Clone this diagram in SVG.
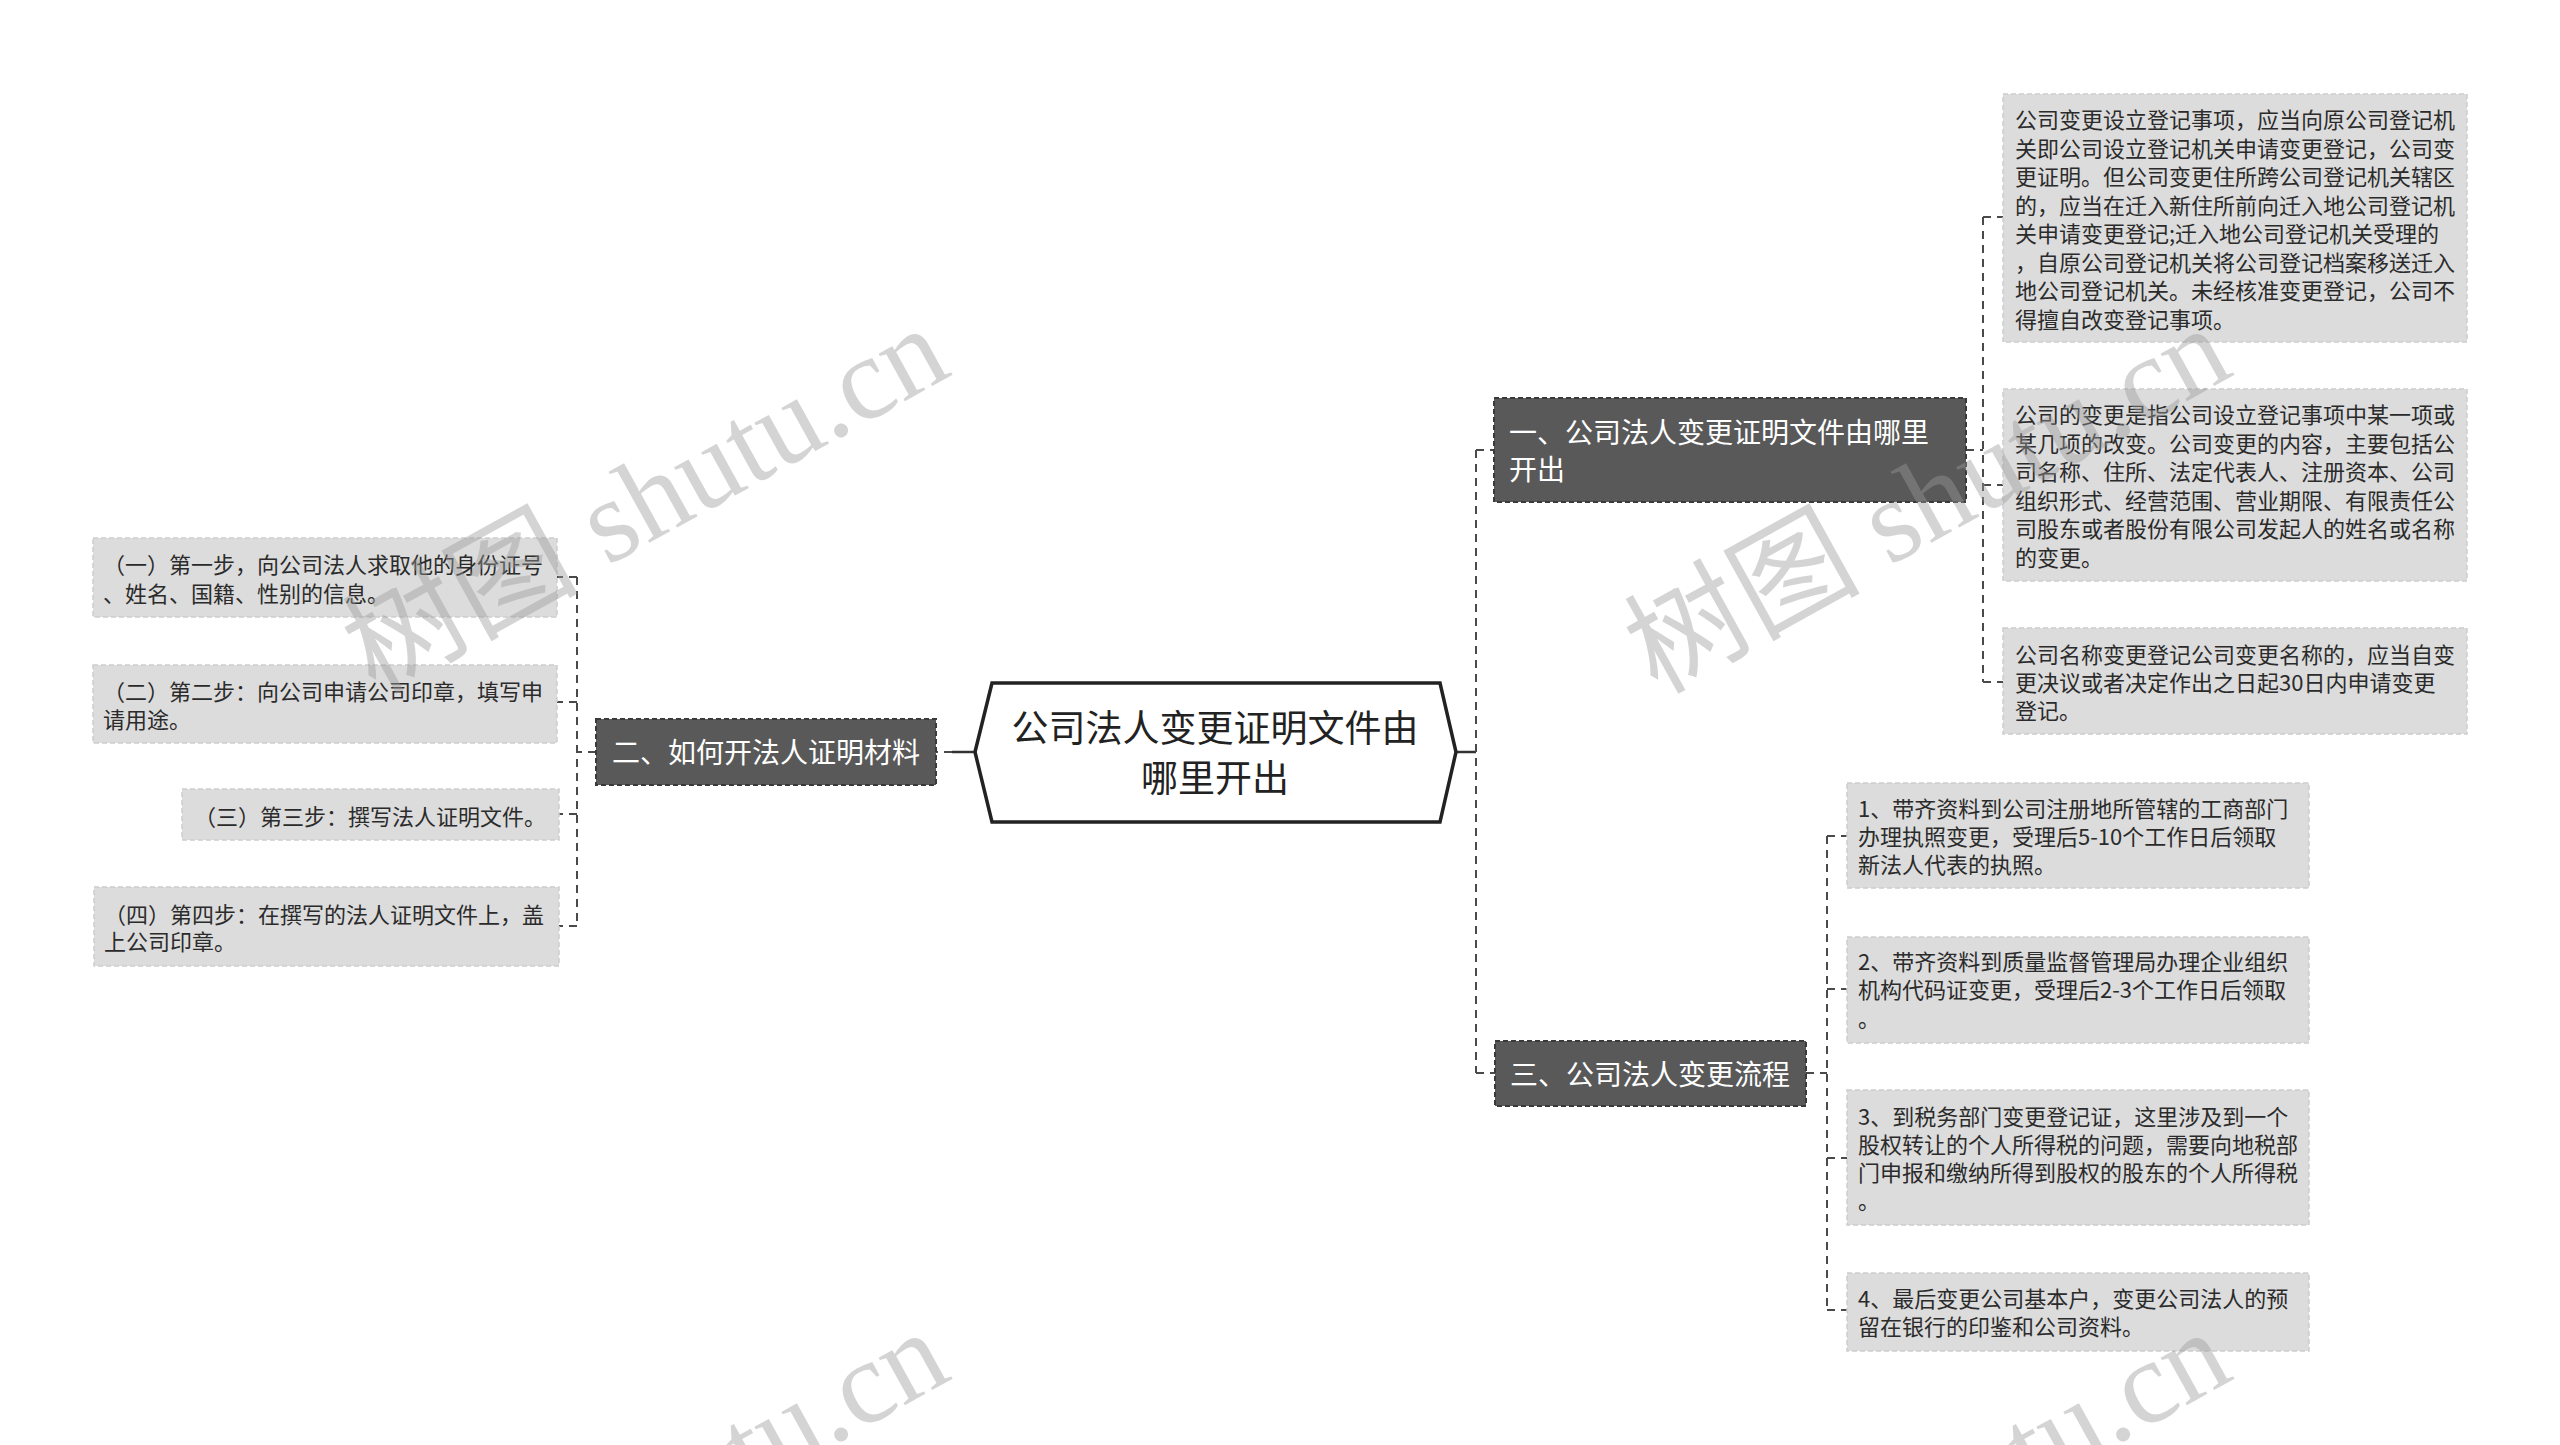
<svg xmlns="http://www.w3.org/2000/svg" width="2560" height="1445" viewBox="0 0 2560 1445">
<style>
.bg{fill:#ffffff}
.conn{fill:none;stroke:#4a4a4a;stroke-width:2;stroke-dasharray:8 6}
.solid{fill:none;stroke:#333;stroke-width:2.5}
.root{fill:#ffffff;stroke:#222;stroke-width:3.5}
.rootText{font-family:"Noto Sans CJK SC","Noto Sans",sans-serif;font-size:37px;fill:#222;text-anchor:middle}
.main{fill:#595959;stroke:#3a3a3a;stroke-width:2;stroke-dasharray:5 3}
.mainText{font-family:"Noto Sans CJK SC","Noto Sans",sans-serif;font-size:28px;fill:#ffffff}
.leaf{fill:#dcdcdc;stroke:#cdcdcd;stroke-width:1.5;stroke-dasharray:5 3}
.leafText{font-family:"Noto Sans CJK SC","Noto Sans",sans-serif;font-size:22px;fill:#2b2b2b}
.wm{font-family:"Liberation Serif","Noto Sans CJK SC",serif;font-size:118px;fill:#9a9a9a;opacity:0.42}
</style>
<rect class="bg" x="0" y="0" width="2560" height="1445"/>

<g id="connectors">
  <path class="solid" d="M1456,752 H1476"/>
  <path class="conn" d="M1476,450 V1073"/>
  <path class="conn" d="M1476,450 H1494"/>
  <path class="conn" d="M1476,1073 H1495"/>
  <path class="solid" d="M975,752 H952"/>
  <path class="conn" d="M952,752 H936"/>
  <path class="conn" d="M1966,450 H1983"/>
  <path class="conn" d="M1983,217 V682"/>
  <path class="conn" d="M1983,217 H2003"/>
  <path class="conn" d="M1983,485 H2003"/>
  <path class="conn" d="M1983,682 H2003"/>
  <path class="conn" d="M1806,1073 H1827"/>
  <path class="conn" d="M1827,836 V1310"/>
  <path class="conn" d="M1827,836 H1847"/>
  <path class="conn" d="M1827,989 H1847"/>
  <path class="conn" d="M1827,1158 H1847"/>
  <path class="conn" d="M1827,1310 H1847"/>
  <path class="conn" d="M596,752 H577"/>
  <path class="conn" d="M577,577 V926"/>
  <path class="conn" d="M577,577 H557"/>
  <path class="conn" d="M577,702 H557"/>
  <path class="conn" d="M577,814 H559"/>
  <path class="conn" d="M577,926 H559"/>
</g>

<g id="root">
  <polygon class="root" points="975,752 992,683 1440,683 1456,752 1440,822 992,822"/>
  <text class="rootText" x="1215" y="742">公司法人变更证明文件由</text>
  <text class="rootText" x="1215" y="792">哪里开出</text>
</g>

<g id="node1">
  <rect class="main" x="1494" y="398" width="472" height="104"/>
  <text class="mainText" x="1509" y="443">一、公司法人变更证明文件由哪里</text>
  <text class="mainText" x="1509" y="480">开出</text>
</g>

<g id="node2">
  <rect class="main" x="596" y="719" width="340" height="66"/>
  <text class="mainText" x="612" y="763">二、如何开法人证明材料</text>
</g>

<g id="node3">
  <rect class="main" x="1495" y="1041" width="311" height="65"/>
  <text class="mainText" x="1510" y="1085">三、公司法人变更流程</text>
</g>

<g id="leaf1a">
  <rect class="leaf" x="2003" y="94" width="464" height="248"/>
  <text class="leafText">
    <tspan x="2015" y="128">公司变更设立登记事项，应当向原公司登记机</tspan>
    <tspan x="2015" y="156.5">关即公司设立登记机关申请变更登记，公司变</tspan>
    <tspan x="2015" y="185">更证明。但公司变更住所跨公司登记机关辖区</tspan>
    <tspan x="2015" y="213.5">的，应当在迁入新住所前向迁入地公司登记机</tspan>
    <tspan x="2015" y="242">关申请变更登记;迁入地公司登记机关受理的</tspan>
    <tspan x="2015" y="270.5">，自原公司登记机关将公司登记档案移送迁入</tspan>
    <tspan x="2015" y="299">地公司登记机关。未经核准变更登记，公司不</tspan>
    <tspan x="2015" y="327.5">得擅自改变登记事项。</tspan>
  </text>
</g>

<g id="leaf1b">
  <rect class="leaf" x="2003" y="389" width="464" height="192"/>
  <text class="leafText">
    <tspan x="2015" y="423">公司的变更是指公司设立登记事项中某一项或</tspan>
    <tspan x="2015" y="451.5">某几项的改变。公司变更的内容，主要包括公</tspan>
    <tspan x="2015" y="480">司名称、住所、法定代表人、注册资本、公司</tspan>
    <tspan x="2015" y="508.5">组织形式、经营范围、营业期限、有限责任公</tspan>
    <tspan x="2015" y="537">司股东或者股份有限公司发起人的姓名或名称</tspan>
    <tspan x="2015" y="565.5">的变更。</tspan>
  </text>
</g>

<g id="leaf1c">
  <rect class="leaf" x="2003" y="628" width="464" height="106"/>
  <text class="leafText">
    <tspan x="2015" y="663">公司名称变更登记公司变更名称的，应当自变</tspan>
    <tspan x="2015" y="691">更决议或者决定作出之日起30日内申请变更</tspan>
    <tspan x="2015" y="719">登记。</tspan>
  </text>
</g>

<g id="leaf3a">
  <rect class="leaf" x="1847" y="783" width="462" height="105"/>
  <text class="leafText">
    <tspan x="1858" y="817">1、带齐资料到公司注册地所管辖的工商部门</tspan>
    <tspan x="1858" y="845">办理执照变更，受理后5-10个工作日后领取</tspan>
    <tspan x="1858" y="873">新法人代表的执照。</tspan>
  </text>
</g>

<g id="leaf3b">
  <rect class="leaf" x="1847" y="937" width="462" height="106"/>
  <text class="leafText">
    <tspan x="1858" y="970">2、带齐资料到质量监督管理局办理企业组织</tspan>
    <tspan x="1858" y="998">机构代码证变更，受理后2-3个工作日后领取</tspan>
    <tspan x="1858" y="1027">。</tspan>
  </text>
</g>

<g id="leaf3c">
  <rect class="leaf" x="1847" y="1090" width="462" height="135"/>
  <text class="leafText">
    <tspan x="1858" y="1125">3、到税务部门变更登记证，这里涉及到一个</tspan>
    <tspan x="1858" y="1153">股权转让的个人所得税的问题，需要向地税部</tspan>
    <tspan x="1858" y="1181">门申报和缴纳所得到股权的股东的个人所得税</tspan>
    <tspan x="1858" y="1209">。</tspan>
  </text>
</g>

<g id="leaf3d">
  <rect class="leaf" x="1847" y="1273" width="462" height="78"/>
  <text class="leafText">
    <tspan x="1858" y="1307">4、最后变更公司基本户，变更公司法人的预</tspan>
    <tspan x="1858" y="1335">留在银行的印鉴和公司资料。</tspan>
  </text>
</g>

<g id="leaf2a">
  <rect class="leaf" x="93" y="538" width="464" height="79"/>
  <text class="leafText">
    <tspan x="103" y="573">（一）第一步，向公司法人求取他的身份证号</tspan>
    <tspan x="103" y="602">、姓名、国籍、性别的信息。</tspan>
  </text>
</g>

<g id="leaf2b">
  <rect class="leaf" x="93" y="665" width="464" height="78"/>
  <text class="leafText">
    <tspan x="103" y="700">（二）第二步：向公司申请公司印章，填写申</tspan>
    <tspan x="103" y="728">请用途。</tspan>
  </text>
</g>

<g id="leaf2c">
  <rect class="leaf" x="182" y="789" width="377" height="51"/>
  <text class="leafText" x="194" y="825">（三）第三步：撰写法人证明文件。</text>
</g>

<g id="leaf2d">
  <rect class="leaf" x="94" y="887" width="465" height="79"/>
  <text class="leafText">
    <tspan x="104" y="923">（四）第四步：在撰写的法人证明文件上，盖</tspan>
    <tspan x="104" y="950">上公司印章。</tspan>
  </text>
</g>

<g id="watermarks">
  <text class="wm" transform="translate(375,695) rotate(-29)">树图 shutu.cn</text>
  <text class="wm" transform="translate(1657,695) rotate(-29)">树图 shutu.cn</text>
  <text class="wm" transform="translate(375,1699) rotate(-29)">树图 shutu.cn</text>
  <text class="wm" transform="translate(1657,1699) rotate(-29)">树图 shutu.cn</text>
</g>
</svg>
